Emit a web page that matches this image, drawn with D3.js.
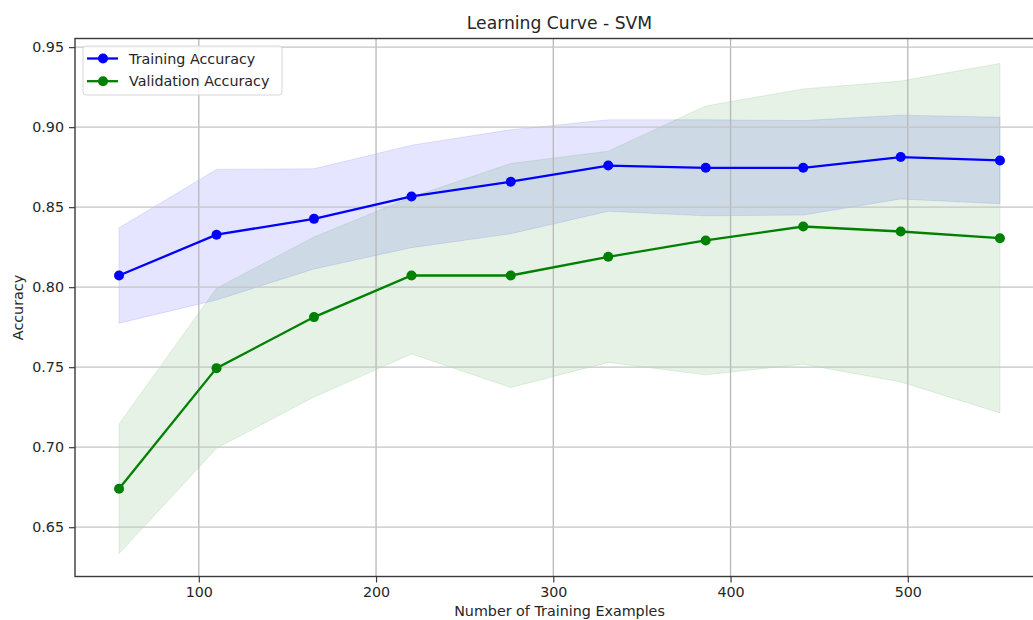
<!DOCTYPE html>
<html>
<head>
<meta charset="utf-8">
<script src="https://cdn.jsdelivr.net/npm/d3@7"></script>
<style>
  html, body { margin: 0; padding: 0; background: #fff; }
  svg { display: block; font-family: "DejaVu Sans", sans-serif; }
</style>
</head>
<body>
<svg id="chart" width="1033" height="620"></svg>
<script>
// Learning curve data: training set sizes and accuracy statistics
const trainSizes = [55, 110, 165, 220, 276, 331, 386, 441, 496, 552];
const trainMean  = [0.8073, 0.8328, 0.8427, 0.8567, 0.8659, 0.8760, 0.8746, 0.8746, 0.8813, 0.8792];
const trainStd   = [0.0298, 0.0408, 0.0313, 0.0320, 0.0325, 0.0286, 0.0300, 0.0295, 0.0262, 0.0270];
const valMean    = [0.6740, 0.7494, 0.7813, 0.8073, 0.8073, 0.8190, 0.8292, 0.8379, 0.8348, 0.8306];
const valStd     = [0.0405, 0.0500, 0.0500, 0.0490, 0.0700, 0.0660, 0.0840, 0.0860, 0.0940, 0.1092];
const xTicks = [100, 200, 300, 400, 500];
const yTicks = [0.65, 0.70, 0.75, 0.80, 0.85, 0.90, 0.95];
const seriesNames = ["Training Accuracy", "Validation Accuracy"];
const seriesColors = ["#0000ff", "#008000"];

const svg = d3.select("#chart");
const plot = { left: 75, top: 38.5, right: 1044, bottom: 576.5 };
const labelSize = "14.3px";

const x = d3.scaleLinear().domain([30.15, 576.85]).range([plot.left, plot.right]);
const y = d3.scaleLinear().domain([0.6192, 0.9554]).range([plot.bottom, plot.top]);

const series = [
  { name: seriesNames[0], color: seriesColors[0], mean: trainMean, std: trainStd },
  { name: seriesNames[1], color: seriesColors[1], mean: valMean, std: valStd }
].map(s => ({
  ...s,
  pts: trainSizes.map((n, i) => ({ n, m: s.mean[i], lo: s.mean[i] - s.std[i], hi: s.mean[i] + s.std[i] }))
}));

svg.append("defs").append("clipPath").attr("id", "plotClip")
  .append("rect").attr("x", plot.left).attr("y", plot.top)
  .attr("width", plot.right - plot.left).attr("height", plot.bottom - plot.top);

const body = svg.append("g").attr("clip-path", "url(#plotClip)");

// ±1 std bands
const area = d3.area().x(d => x(d.n)).y0(d => y(d.lo)).y1(d => y(d.hi));
series.forEach(s => {
  body.append("path").datum(s.pts)
    .attr("d", area)
    .attr("fill", s.color).attr("fill-opacity", 0.1)
    .attr("stroke", s.color).attr("stroke-opacity", 0.1).attr("stroke-width", 1);
});

// grid
body.append("g").selectAll("line").data(xTicks).join("line")
  .attr("x1", d => x(d)).attr("x2", d => x(d))
  .attr("y1", plot.top).attr("y2", plot.bottom)
  .attr("stroke", "#b8b8b8").attr("stroke-width", 1.3);
body.append("g").selectAll("line").data(yTicks).join("line")
  .attr("x1", plot.left).attr("x2", plot.right)
  .attr("y1", d => y(d)).attr("y2", d => y(d))
  .attr("stroke", "#c4c4c4").attr("stroke-width", 1.3);

// mean lines with markers
const line = d3.line().x(d => x(d.n)).y(d => y(d.m));
series.forEach(s => {
  body.append("path").datum(s.pts)
    .attr("d", line).attr("fill", "none")
    .attr("stroke", s.color).attr("stroke-width", 2.3);
  body.append("g").selectAll("circle").data(s.pts).join("circle")
    .attr("cx", d => x(d.n)).attr("cy", d => y(d.m)).attr("r", 5)
    .attr("fill", s.color);
});

// spines
const spine = svg.append("g").attr("fill", "none").attr("stroke", "#3a3a3a").attr("stroke-width", 1.4);
spine.append("rect")
  .attr("x", plot.left).attr("y", plot.top)
  .attr("width", plot.right - plot.left).attr("height", plot.bottom - plot.top);

// axes
const xAxis = d3.axisBottom(x).tickValues(xTicks).tickFormat(d3.format("d")).tickSizeOuter(0).tickSize(6).tickPadding(4);
const yAxis = d3.axisLeft(y).tickValues(yTicks).tickFormat(d3.format(".2f")).tickSizeOuter(0).tickSize(6).tickPadding(5);

const gx = svg.append("g").attr("transform", `translate(0,${plot.bottom})`).call(xAxis);
const gy = svg.append("g").attr("transform", `translate(${plot.left},0)`).call(yAxis);
[gx, gy].forEach(g => {
  g.select(".domain").remove();
  g.selectAll(".tick line").attr("stroke", "#3a3a3a").attr("stroke-width", 1.2);
  g.selectAll(".tick text").attr("fill", "#262626")
    .style("font-family", "'DejaVu Sans', sans-serif").style("font-size", labelSize);
});

// titles
svg.append("text")
  .attr("x", (plot.left + plot.right) / 2).attr("y", 29)
  .attr("text-anchor", "middle").attr("fill", "#262626")
  .style("font-size", "17.2px").text("Learning Curve - SVM");
svg.append("text")
  .attr("x", (plot.left + plot.right) / 2).attr("y", 615.5)
  .attr("text-anchor", "middle").attr("fill", "#262626")
  .style("font-size", labelSize).text("Number of Training Examples");
svg.append("text")
  .attr("transform", `translate(23,${(plot.top + plot.bottom) / 2}) rotate(-90)`)
  .attr("text-anchor", "middle").attr("fill", "#262626")
  .style("font-size", labelSize).text("Accuracy");

// legend
const lg = svg.append("g").attr("transform", "translate(83,46)");
lg.append("rect").attr("width", 199).attr("height", 49).attr("rx", 3)
  .attr("fill", "#fff").attr("fill-opacity", 0.8)
  .attr("stroke", "#d6d6d6").attr("stroke-width", 1);
series.forEach((s, i) => {
  const row = lg.append("g").attr("transform", `translate(0,${12.5 + i * 22.7})`);
  row.append("line").attr("x1", 4).attr("x2", 35).attr("stroke", s.color).attr("stroke-width", 2.3);
  row.append("circle").attr("cx", 20).attr("r", 5).attr("fill", s.color);
  row.append("text").attr("x", 46).attr("dy", "0.35em").attr("fill", "#262626")
    .style("font-size", labelSize).text(s.name);
});
</script>
</body>
</html>
